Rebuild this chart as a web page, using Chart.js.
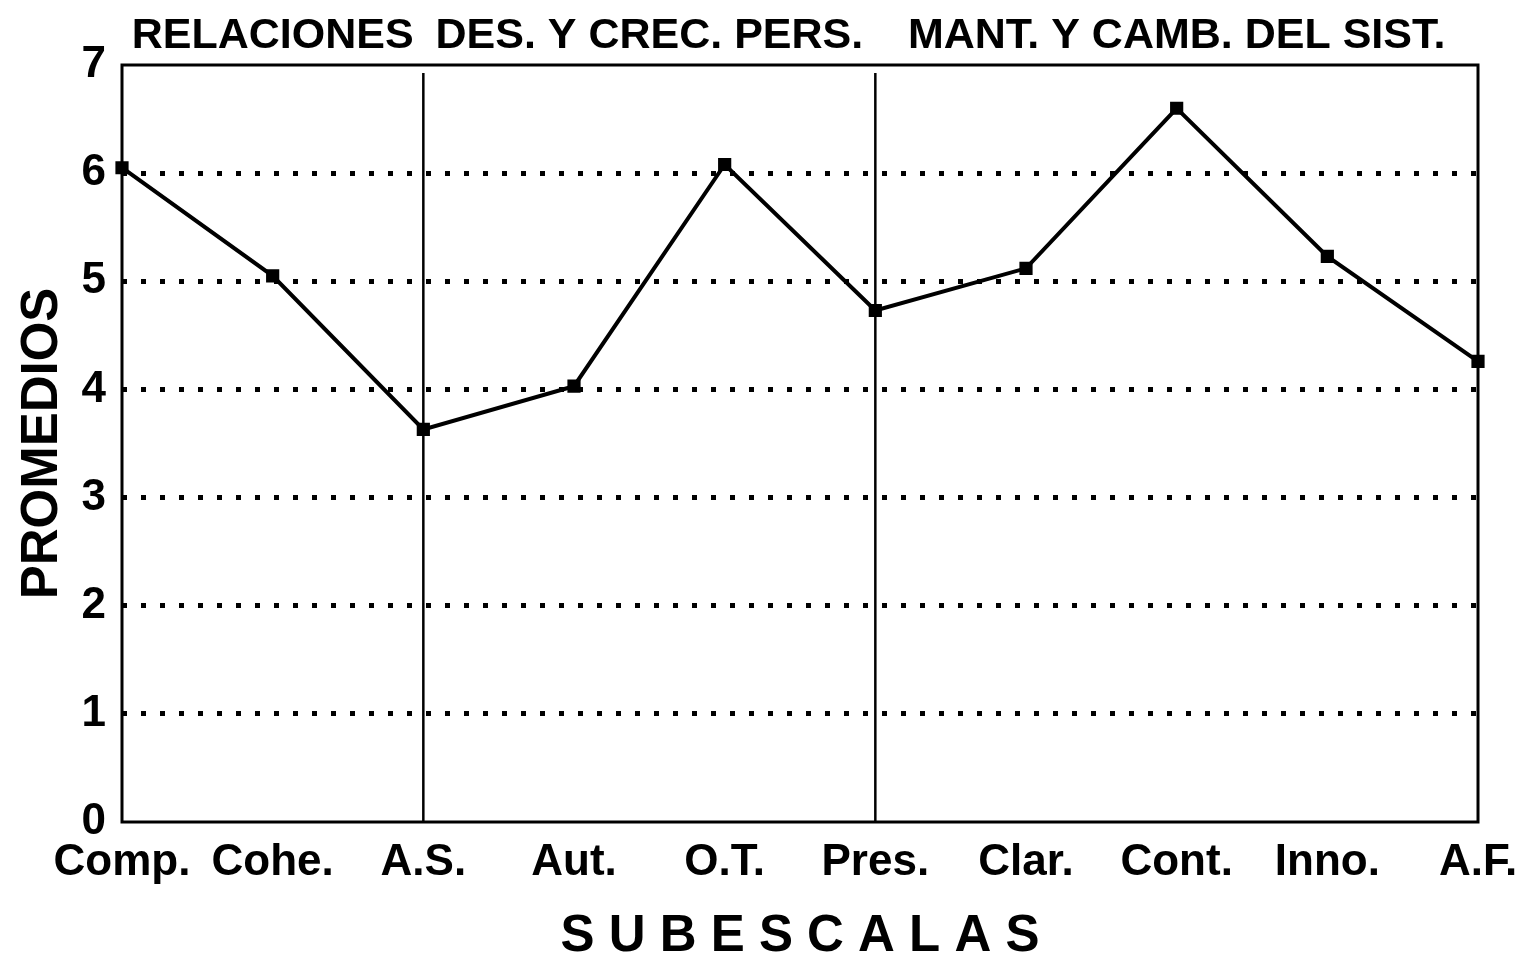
<!DOCTYPE html>
<html>
<head>
<meta charset="utf-8">
<script src="https://cdn.jsdelivr.net/npm/chart.js@4/dist/chart.umd.min.js"></script>
<style>
  body { margin: 0; background: #fff; }
  #wrap { width: 1530px; height: 968px; }
</style>
</head>
<body>
<div id="wrap"><canvas id="myChart" width="1530" height="968"></canvas></div>
<script>
// subescalas y promedios
const subescalas = ['Comp.', 'Cohe.', 'A.S.', 'Aut.', 'O.T.', 'Pres.', 'Clar.', 'Cont.', 'Inno.', 'A.F.']
const promedios = [6.05, 5.05, 3.63, 4.03, 6.08, 4.73, 5.12, 6.6, 5.23, 4.26]
const yTicks = [0, 1, 2, 3, 4, 5, 6, 7]
// dimensiones: nombre y primer indice de cada bloque
const dimensiones = ['RELACIONES', 'DES. Y CREC. PERS.', 'MANT. Y CAMB. DEL SIST.']
const cortes = [0, 2, 5, 9]

const sans = "'Liberation Sans', Arial, Helvetica, sans-serif"

// marco, separadores y titulos de bloque
const framePlugin = {
  id: 'frame',
  afterDraw(chart) {
    const { ctx, chartArea } = chart
    const x = chart.scales.x
    ctx.save()
    ctx.strokeStyle = '#000'
    ctx.lineWidth = 3
    ctx.strokeRect(chartArea.left, chartArea.top, chartArea.right - chartArea.left, chartArea.bottom - chartArea.top)

    ctx.lineWidth = 2.5
    ;[cortes[1], cortes[2]].forEach((i) => {
      const px = x.getPixelForValue(i)
      ctx.beginPath()
      ctx.moveTo(px, chartArea.top + 8)
      ctx.lineTo(px, chartArea.bottom)
      ctx.stroke()
    })

    ctx.fillStyle = '#000'
    ctx.textAlign = 'center'
    ctx.textBaseline = 'alphabetic'
    ctx.font = 'bold 43px ' + sans
    dimensiones.forEach((t, k) => {
      const a = x.getPixelForValue(cortes[k])
      const b = x.getPixelForValue(cortes[k + 1])
      ctx.fillText(t, (a + b) / 2, 48)
    })
    ctx.restore()
  },
}

let myChart = document.getElementById('myChart').getContext('2d')

let chart = new Chart(myChart, {
  type: 'line',
  data: {
    labels: subescalas,
    datasets: [
      {
        data: promedios,
        borderColor: '#000',
        backgroundColor: '#000',
        borderWidth: 4,
        pointStyle: 'rect',
        pointRadius: 6.5,
        pointHoverRadius: 6.5,
        tension: 0,
        clip: false,
      },
    ],
  },
  options: {
    responsive: false,
    animation: false,
    events: [],
    layout: {
      padding: { top: 65, right: 52, left: 0, bottom: 0 },
    },
    plugins: {
      legend: { display: false },
      tooltip: { enabled: false },
    },
    scales: {
      x: {
        offset: false,
        grid: { display: false },
        border: { display: false },
        ticks: {
          color: '#000',
          font: { family: sans, size: 44, weight: 'bold' },
          padding: 6,
          maxRotation: 0,
          autoSkip: false,
        },
        title: {
          display: true,
          text: 'S U B E S C A L A S',
          color: '#000',
          font: { family: sans, size: 51, weight: 'bold' },
          padding: { top: 0, bottom: 0 },
        },
        afterFit(scale) {
          scale.height = 146
        },
      },
      y: {
        min: 0,
        max: 7,
        afterBuildTicks(scale) {
          scale.ticks = yTicks.map((v) => ({ value: v }))
        },
        grid: {
          // sin puntos sobre el marco (0 y 7)
          color: (c) => (c.tick && (c.tick.value === 0 || c.tick.value === 7) ? 'rgba(0,0,0,0)' : '#000'),
          lineWidth: 5,
          drawTicks: false,
        },
        border: { display: false, dash: [5, 14] },
        ticks: {
          color: '#000',
          font: { family: sans, size: 44, weight: 'bold' },
          padding: 16,
        },
        title: {
          display: true,
          text: 'PROMEDIOS',
          color: '#000',
          font: { family: sans, size: 51, weight: 'bold' },
          padding: { top: 12, bottom: 0 },
        },
        afterFit(scale) {
          scale.width = 122
        },
      },
    },
  },
  plugins: [framePlugin],
})
</script>
</body>
</html>
